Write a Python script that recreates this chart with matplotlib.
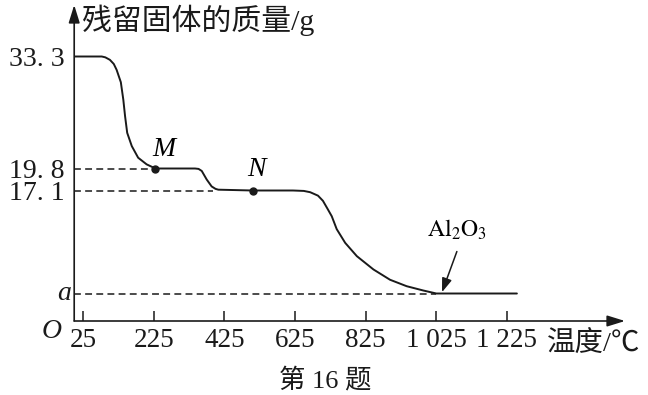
import numpy as np
import matplotlib.pyplot as plt

plt.rcParams['mathtext.fontset'] = 'stix'

# curve: temperature (°C) vs residual solid mass (g)
temps = [0, 78, 88, 101, 112, 120, 132, 139, 144, 150, 163, 181, 205, 230, 342, 352,
         361, 375, 389, 400, 408, 505, 619, 650, 668, 690, 704, 718, 729, 743,
         767, 800, 847, 894, 941, 988, 1025, 1253]
mass = [33.3, 33.3, 33.2, 32.9, 32.4, 31.7, 30.2, 28.1, 26.1, 24.1, 22.5, 21.1, 20.3,
        19.8, 19.8, 19.75, 19.5, 18.45, 17.6, 17.3, 17.2, 17.1, 17.1, 17.05, 16.9,
        16.5, 15.9, 14.9, 14.1, 12.6, 11.0, 9.45, 7.9, 6.7, 5.95, 5.45, 5.1, 5.1]

a_val = 5.1
point_M = (230, 19.8)
point_N = (505, 17.1)
x_ticks = [25, 225, 425, 625, 825, 1025, 1225]
x_labels = ['25', '225', '425', '625', '825', '1 025', '1 225']
y_ticks = [a_val, 17.1, 19.8, 33.3]
y_labels = ['', '17. 1', '19. 8', '33. 3']

ink = '#1a1a1a'
serif = 'Liberation Serif'
cjk = ['Liberation Serif', 'Noto Sans CJK SC']

# schematic (non uniform) vertical axis, as drawn in the original
knots_val = [0, a_val, 17.1, 19.8, 33.3, 45]
knots_px = [0, 27.5, 130.5, 152.5, 264.5, 361.6]


def fwd(v):
    return np.interp(v, knots_val, knots_px)


def inv(p):
    return np.interp(p, knots_px, knots_val)


fig = plt.figure(figsize=(6.48, 3.95), dpi=100)
ax = fig.add_axes([74.2 / 648, 74 / 395, 550.8 / 648, 316 / 395])
ax.set_yscale('function', functions=(fwd, inv))
ax.set_xlim(0, 1559)
ax.set_ylim(0, inv(316))
for s in ax.spines.values():
    s.set_visible(False)

# axes with arrow heads
arr = dict(arrowstyle='-|>,head_length=0.9,head_width=0.28', lw=1.2, color=ink,
           mutation_scale=12, shrinkA=0, shrinkB=0)
ax.annotate('', xy=(1559, 0), xytext=(0, 0), arrowprops=arr, annotation_clip=False)
ax.annotate('', xy=(0, inv(316)), xytext=(0, 0), arrowprops=arr, annotation_clip=False)

# dashed guides
dash = (0, (4.5, 2.8))
ax.plot([0, point_M[0]], [19.8, 19.8], color=ink, lw=1.1, ls=dash)
ax.plot([0, 393], [17.1, 17.1], color=ink, lw=1.1, ls=dash)
ax.plot([0, 1025], [a_val, a_val], color=ink, lw=1.1, ls=dash)

# curve
ax.plot(temps, mass, color=ink, lw=1.4, solid_capstyle='round', solid_joinstyle='round')
ax.plot(*point_M, 'o', color=ink, ms=5)
ax.plot(*point_N, 'o', color=ink, ms=5)

ax.annotate('M', point_M, xytext=(6, 14), textcoords='offset points', ha='center',
            va='center', fontsize=20, family=serif, style='italic')
ax.annotate('N', point_N, xytext=(3, 15), textcoords='offset points', ha='center',
            va='center', fontsize=20, family=serif, style='italic')
ax.annotate(r'$\mathrm{Al_2O_3}$', xy=(1041, a_val + 0.15), xytext=(11, 36),
            textcoords='offset points', ha='center', va='bottom', fontsize=17,
            arrowprops=dict(arrowstyle='-|>,head_length=0.7,head_width=0.25',
                            lw=1.1, color=ink, mutation_scale=12,
                            shrinkA=5, shrinkB=0, relpos=(0.55, 0)))

# ticks
ax.set_xticks(x_ticks)
ax.set_xticklabels(x_labels, family=serif, fontsize=19.5)
ax.tick_params(axis='x', direction='in', length=7, width=1.1, color=ink,
               pad=5, labelcolor=ink)
ax.set_yticks(y_ticks)
ax.set_yticklabels(y_labels, family=serif, fontsize=20)
ax.tick_params(axis='y', length=0, pad=7, labelcolor=ink)
ax.yaxis.set_minor_locator(plt.NullLocator())

ax.text(-10, a_val, 'a', transform=ax.transData, ha='right', va='center',
        fontsize=20, family=serif, style='italic', color=ink)
fig.text(52 / 648, 1 - 331 / 395, 'O', ha='center', va='center', fontsize=20,
         family=serif, style='italic', color=ink)

fig.text(82 / 648, 1 - 20 / 395, '残留固体的质量/g', ha='left', va='center',
         fontsize=21.5, family=cjk, color=ink)
fig.text(547 / 648, 1 - 345 / 395, '温度/℃', ha='left', va='center',
         fontsize=20.5, family=cjk, color=ink)
fig.text(325 / 648, 1 - 380 / 395, '第 16 题', ha='center', va='center',
         fontsize=19, family=cjk, color=ink)

fig.savefig('out.png', dpi=100, facecolor='white')
